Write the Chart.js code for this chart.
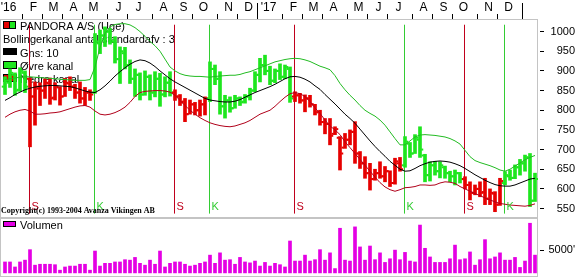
<!DOCTYPE html>
<html>
<head>
<meta charset="utf-8">
<title>PANDORA A/S (Uge)</title>
<script src="https://cdn.jsdelivr.net/npm/chart.js@4"></script>
<style>
  html, body { margin: 0; padding: 0; background: #fff; }
  canvas { display: block; }
</style>
</head>
<body>
<canvas id="priceChart" width="575" height="218"></canvas>
<canvas id="volumeChart" width="575" height="60"></canvas>
<script>
// weekly bars, bar 0 = week of 10 Jan 2016
const firstWeek = Date.UTC(2016, 0, 10)
const weekMs = 7 * 864e5

const opens = [860, 870, 890, 852, 895, 880, 835, 855, 850, 868, 832, 858, 835, 868, 860, 845, 830, 845,
    845, 970, 990, 1000, 975, 930, 945, 915, 880, 890, 840, 885, 845, 880, 840, 870,
    845, 835, 822, 790, 815, 800, 815,
    830, 905, 880, 810, 825, 805, 830, 822, 835, 850, 890, 915, 900, 875, 900, 885, 905,
    835, 838, 825, 830, 815, 795, 770, 765, 740, 730, 705, 725, 745, 690, 665, 640, 625, 640, 632, 645, 615, 665,
    660, 715, 690, 725, 685, 635, 660, 645, 655, 640, 632, 640,
    625, 610, 590, 600, 592, 575, 588, 560,
    615, 632, 628, 655, 665, 680, 570]
const highs = [885, 905, 895, 908, 900, 882, 872, 870, 880, 882, 870, 860, 881, 885, 866, 872, 858, 852,
    995, 1004, 1012, 1008, 987, 961, 960, 928, 905, 895, 900, 890, 898, 894, 885, 898,
    852, 840, 830, 826, 820, 826, 834,
    923, 915, 898, 838, 834, 838, 834, 840, 856, 898, 932, 940, 912, 905, 918, 915, 910,
    847, 843, 839, 838, 815, 800, 779, 779, 758, 733, 741, 750, 771, 695, 682, 665, 650, 669, 657, 646, 678, 680,
    733, 718, 738, 758, 688, 669, 670, 669, 658, 645, 648, 642,
    631, 618, 610, 618, 627, 600, 593, 627,
    644, 648, 661, 675, 686, 690, 640]
const lows = [840, 858, 838, 848, 845, 707, 762, 812, 830, 815, 826, 813, 835, 850, 830, 818, 812, 825,
    843, 944, 962, 968, 920, 868, 905, 868, 835, 826, 838, 826, 834, 810, 834, 836,
    825, 812, 771, 790, 788, 785, 788,
    822, 865, 790, 780, 795, 805, 812, 818, 826, 847, 872, 890, 865, 870, 878, 880, 820,
    822, 818, 796, 808, 788, 762, 740, 712, 738, 648, 703, 712, 665, 652, 627, 597, 622, 627, 618, 606, 612, 645,
    655, 680, 690, 680, 618, 620, 635, 628, 627, 618, 610, 615,
    600, 572, 585, 580, 560, 560, 542, 558,
    610, 622, 626, 635, 645, 555, 568]
const closes = [875, 895, 850, 900, 860, 835, 860, 850, 870, 830, 860, 835, 870, 860, 845, 830, 845, 840,
    975, 990, 1000, 975, 930, 950, 915, 880, 890, 840, 885, 845, 880, 840, 870, 845,
    835, 820, 790, 815, 800, 815, 830,
    905, 880, 810, 825, 805, 830, 820, 835, 850, 890, 915, 900, 875, 900, 885, 910, 830,
    838, 825, 830, 815, 795, 770, 765, 735, 752, 690, 725, 745, 690, 665, 640, 625, 640, 632, 645, 615, 670, 650,
    720, 690, 730, 700, 635, 660, 645, 660, 640, 632, 640, 625,
    610, 590, 600, 590, 575, 590, 560, 620,
    635, 628, 655, 665, 680, 570, 625]

const average10 = [825, 832, 840, 846, 852, 856, 859, 861, 862, 863, 863, 862, 861, 860, 857, 853, 849, 846,
    845, 852, 862, 874, 887, 898, 908, 917, 924, 928, 926, 920, 911, 900, 890, 880,
    872, 865, 858, 851, 844, 837, 830, 826, 824, 822, 821, 821, 823, 827, 833, 839, 845,
    850, 855, 860, 866, 873, 880, 885, 886, 884, 879, 872, 862, 853, 840, 828, 816, 803, 790,
    779, 767, 752, 737, 722, 708, 695, 683, 670, 660, 650, 645, 646, 652, 659, 664, 668, 670,
    671, 670, 668, 664, 659, 652, 644, 636, 629, 622, 616, 611, 608, 607, 607, 610, 615, 620, 625, 627]
const upperChannel = [878, 880, 882, 884, 885, 885, 884, 883, 882, 881, 880, 879, 878, 877, 876, 876, 876, 878,
    910, 960, 995, 1012, 1018, 1020, 1020, 1017, 1010, 1000, 988, 975, 964, 950, 930, 910,
    900, 893, 889, 887, 886, 886, 885, 884, 886, 887, 888, 889, 889, 891, 895, 898, 903,
    908, 913, 918, 923, 926, 929, 931, 932, 931, 928, 924, 918, 912, 908, 903, 888, 868, 852,
    838, 826, 812, 800, 792, 785, 775, 762, 745, 728, 712, 712, 722, 732, 737, 738, 737, 736,
    734, 732, 728, 722, 714, 698, 682, 672, 667, 663, 659, 654, 648, 645, 650, 658, 666, 674, 680, 685]
const lowerChannel = [782, 790, 796, 800, 802, 798, 790, 790, 791, 793, 794, 796, 800, 804, 808, 811, 812, 808,
    798, 790, 788, 790, 794, 800, 808, 820, 835, 845, 848, 849, 850, 850, 849, 846,
    838, 825, 812, 800, 790, 781, 774, 768, 764, 761, 759, 758, 760, 764, 768, 774, 782,
    790, 795, 800, 810, 822, 833, 842, 845, 842, 835, 822, 806, 792, 775, 760, 750, 738, 720,
    705, 690, 675, 660, 645, 630, 616, 605, 598, 594, 598, 603, 604, 606, 610, 610, 609, 610,
    615, 618, 617, 614, 606, 600, 594, 588, 583, 577, 572, 567, 563, 561, 559, 558, 557, 556, 558, 562]

const volumes = [2400, 2400, 1300, 2400, 2800, 5100, 1700, 1900, 1900, 1900,
    1800, 600, 1300, 1500, 1500, 1900, 1900, 600, 4800, 1500,
    2100, 2100, 2400, 2400, 2900, 2800, 3400, 2100, 1700, 2800,
    1900, 4800, 1300, 2100, 2400, 2400, 1900, 1500, 1700, 2100,
    2400, 3900, 2100, 4400, 2800, 2900, 1900, 3400, 2400, 2200,
    2600, 1500, 2300, 1500, 2100, 1800, 1300, 7000,
    2600, 2600, 3900, 2600, 2900, 5100, 2800, 4400, 950, 9800,
    2800, 2600, 10100, 5700, 2800, 5900, 2900, 4400, 2300, 3100,
    5000, 2900, 4500, 2600, 2400, 10500, 5400, 3500, 2300, 2300,
    2300, 3100, 6100, 2900, 3100, 4600, 1700, 2900, 7300, 3100,
    3500, 4400, 2800, 2800, 3400, 1200, 2600, 10900, 3900]

const signalWeeks = [5, 18, 34, 41, 58, 80, 92, 100]
const signalKinds = ['S', 'K', 'S', 'K', 'S', 'K', 'S', 'K']

const priceTicks = [550, 600, 650, 700, 750, 800, 850, 900, 950, 1000]
const volumeTicks = [5000]
const monthLetters = ['J', 'F', 'M', 'A', 'M', 'J', 'J', 'A', 'S', 'O', 'N', 'D']

const GREEN = '#1ee61e'
const RED = '#e60000'
const K_COLOR = '#33cc33'
const S_COLOR = '#c0001c'
const MAGENTA = '#e400e4'
const FAMILY = '"Liberation Sans", Arial, sans-serif'
const FONT = '11px ' + FAMILY
const X_MIN = -1
const X_MAX = 106.6

// month ticks sit just before the first weekly bar of each month
const monthStarts = []
const monthNames = []
for (let m = 0; m <= 24; m++) {
    const start = Date.UTC(2016, m, 1)
    monthStarts.push(Math.ceil((start - firstWeek) / weekMs) - 0.5)
    const mm = m % 12
    monthNames.push(m === 24 ? '' : mm === 0 ? "'" + (16 + m / 12) : monthLetters[mm])
}
const yearStarts = [monthStarts[0], monthStarts[12], monthStarts[24]]

const barColors = opens.map((o, i) => {
    let kind = 'K'
    signalWeeks.forEach((w, j) => { if (i >= w) kind = signalKinds[j] })
    return kind === 'S' ? RED : GREEN
})

function signalLine(kind) {
    const pts = []
    signalWeeks.forEach((w, j) => {
        if (signalKinds[j] !== kind) return
        pts.push({ x: w - 0.1, y: 1017 }, { x: w - 0.1, y: 538 }, { x: w - 0.1, y: null })
    })
    return pts
}

function box(ctx, x, y, w, h, fill) {
    ctx.fillStyle = fill
    ctx.fillRect(x, y, w, h)
    ctx.strokeStyle = '#000'
    ctx.lineWidth = 1
    ctx.strokeRect(x + 0.5, y + 0.5, w - 1, h - 1)
}

// no automatic label padding, the plot area must stay where it is
function noPadding(s) {
    s.paddingLeft = 0
    s.paddingRight = 0
    s.paddingTop = 0
    s.paddingBottom = 0
}

const frame = {
    id: 'frame',
    beforeDatasetsDraw(chart) {
        const { ctx, chartArea: a } = chart
        ctx.save()
        ctx.strokeStyle = '#c4c4c4'
        ctx.lineWidth = 1
        ctx.strokeRect(a.left + 0.5, a.top + 0.5, a.right - a.left - 1, a.bottom - a.top - 1)
        ctx.restore()
    }
}

const priceLegend = {
    id: 'priceLegend',
    beforeDatasetsDraw(chart) {
        const ctx = chart.ctx
        ctx.save()
        box(ctx, 3, 21, 7, 8, RED)
        box(ctx, 9, 21, 7, 8, GREEN)
        box(ctx, 3, 48, 14, 7, '#000')
        box(ctx, 3, 61, 14, 8, GREEN)
        box(ctx, 3, 74, 14, 8, RED)
        ctx.font = FONT
        ctx.fillStyle = '#000'
        ctx.fillText('PANDORA A/S (Uge)', 20, 30)
        ctx.fillText('Bollingerkanal antal standardafv : 3', 3, 43)
        ctx.fillText('Gns: 10', 20, 56.5)
        ctx.fillText('Øvre kanal', 20, 69.5)
        ctx.fillText('Nedre kanal', 20, 82.5)
        ctx.restore()
    },
    afterDatasetsDraw(chart) {
        const { ctx, chartArea, scales: { x } } = chart
        ctx.save()
        ctx.font = FONT
        signalWeeks.forEach((w, j) => {
            ctx.fillStyle = signalKinds[j] === 'S' ? S_COLOR : K_COLOR
            ctx.fillText(signalKinds[j], x.getPixelForValue(w - 0.1) + 2, chartArea.bottom - 8)
        })
        ctx.font = 'bold 8px "Liberation Serif", "Times New Roman", serif'
        ctx.fillStyle = '#000'
        ctx.fillText('Copyright(c) 1993-2004 Avanza Vikingen AB', 1, chartArea.bottom - 5)
        ctx.restore()
    }
}

const volumeLegend = {
    id: 'volumeLegend',
    beforeDatasetsDraw(chart) {
        const ctx = chart.ctx
        ctx.save()
        box(ctx, 3, 3, 13, 6, MAGENTA)
        ctx.font = FONT
        ctx.fillStyle = '#000'
        ctx.fillText('Volumen', 20, 10.5)
        ctx.restore()
    }
}

const rightAxis = (min, max, ticks, label) => ({
    position: 'right',
    min: min,
    max: max,
    afterBuildTicks: s => { s.ticks = ticks.map(v => ({ value: v })) },
    afterFit: s => { s.width = 37; noPadding(s) },
    ticks: {
        font: { family: FAMILY, size: 11 },
        color: '#000',
        padding: 3,
        crossAlign: 'far',
        autoSkip: false,
        callback: label
    },
    grid: { drawOnChartArea: false, tickLength: 6, color: '#000', tickBorderDash: [0, 2, 4, 10] },
    border: { display: false }
})

new Chart(document.getElementById('priceChart'), {
    type: 'line',
    data: {
        datasets: [
            { data: average10.map((v, i) => ({ x: i, y: v })), borderColor: '#000', borderWidth: 1, pointRadius: 0, order: 0 },
            { data: upperChannel.map((v, i) => ({ x: i, y: v })), borderColor: '#22bb22', borderWidth: 1, pointRadius: 0, order: 0 },
            { data: lowerChannel.map((v, i) => ({ x: i, y: v })), borderColor: '#b0001a', borderWidth: 1, pointRadius: 0, order: 0 },
            {
                type: 'bar', data: highs.map((h, i) => ({ x: i, y: [lows[i], h] })),
                backgroundColor: barColors, barThickness: 3, order: 1
            },
            {
                data: opens.map((v, i) => ({ x: i - 0.45, y: v })), showLine: false,
                pointStyle: 'line', pointRadius: 1, pointBorderWidth: 2, pointBorderColor: barColors, order: 1
            },
            {
                data: closes.map((v, i) => ({ x: i + 0.45, y: v })), showLine: false,
                pointStyle: 'line', pointRadius: 1, pointBorderWidth: 2, pointBorderColor: barColors, order: 1
            },
            { data: signalLine('S'), borderColor: S_COLOR, borderWidth: 1, pointRadius: 0, spanGaps: false, order: 2 },
            { data: signalLine('K'), borderColor: K_COLOR, borderWidth: 1, pointRadius: 0, spanGaps: false, order: 2 }
        ]
    },
    options: {
        responsive: false,
        animation: false,
        events: [],
        layout: { padding: 0, autoPadding: false },
        plugins: { legend: { display: false }, tooltip: { enabled: false } },
        scales: {
            x: {
                type: 'linear',
                position: 'top',
                offset: false,
                min: X_MIN,
                max: X_MAX,
                afterBuildTicks: s => { s.ticks = monthStarts.map(v => ({ value: v })) },
                afterFit: s => { s.height = 19; noPadding(s) },
                ticks: {
                    font: { family: FAMILY, size: 12 },
                    color: '#000',
                    padding: -12,
                    labelOffset: 11,
                    autoSkip: false,
                    maxRotation: 0,
                    minRotation: 0,
                    callback: (v, i) => monthNames[i]
                },
                grid: {
                    offset: false,
                    drawOnChartArea: false,
                    tickLength: 16,
                    color: '#000',
                    tickBorderDash: ctx => yearStarts.includes(ctx.tick && ctx.tick.value) ? [] : [0, 11, 5, 100]
                },
                border: { display: false }
            },
            y: rightAxis(526, 1032, priceTicks, v => String(v))
        }
    },
    plugins: [frame, priceLegend]
})

new Chart(document.getElementById('volumeChart'), {
    type: 'bar',
    data: {
        datasets: [{
            data: volumes.map((v, i) => ({ x: i, y: v })),
            backgroundColor: MAGENTA,
            barThickness: 3
        }]
    },
    options: {
        responsive: false,
        animation: false,
        events: [],
        layout: { padding: { top: 0, left: 0, right: 0, bottom: 1 }, autoPadding: false },
        plugins: { legend: { display: false }, tooltip: { enabled: false } },
        scales: {
            x: { type: 'linear', offset: false, grid: { offset: false }, min: X_MIN, max: X_MAX, display: false },
            y: rightAxis(-900, 12050, volumeTicks, v => v + "'")
        }
    },
    plugins: [frame, volumeLegend]
})
</script>
</body>
</html>
